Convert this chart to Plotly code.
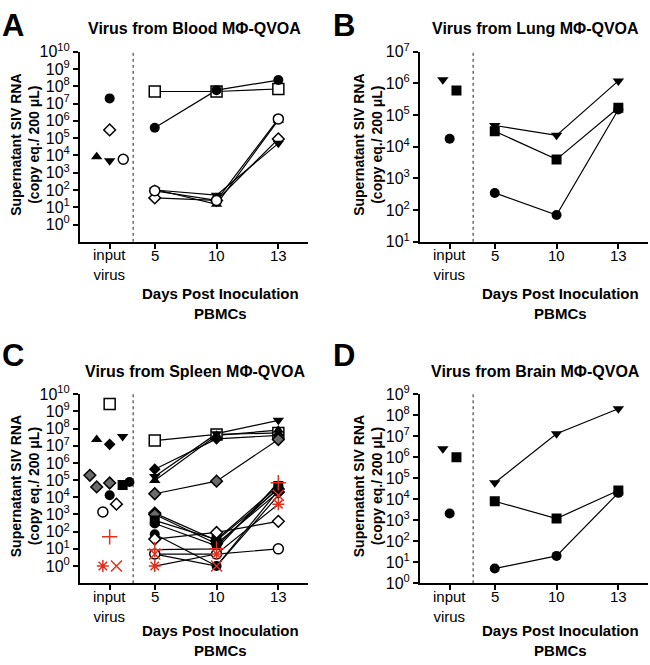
import plotly.graph_objects as go

W, H = 650, 665
def px(x): return x / W
def py(y): return 1 - y / H

# ---------------- data ----------------
x_labels = ["input<br>virus", "5", "10", "13"]

A_markers = ["sq_open", "circ_fill", "dia_open", "tri_up", "tri_dn", "circ_open"]
A_input = [None, 2e7, 3e5, 8.5e3, 5e3, 6e3]
A_day5 = [5e7, 4e5, 35, 110, 100, 90]
A_day10 = [5e7, 6e7, 25, 15, 50, 25]
A_day13 = [7e7, 2.3e8, 9e4, 1.1e6, 5e4, 1.3e6]

B_markers = ["tri_dn", "sq_fill", "circ_fill"]
B_input = [1.3e6, 6e5, 1.8e4]
B_day5 = [4.7e4, 3.1e4, 350]
B_day10 = [2.3e4, 4e3, 70]
B_day13 = [1.2e6, 1.7e5, 1.5e5]

C_markers = ["sq_open", "tri_up", "dia_fill", "tri_dn", "dia_half", "dia_half", "dia_half",
             "sq_fill", "circ_fill", "circ_fill", "dia_open", "circ_open",
             "red_plus", "red_ast", "red_x"]
C_input = [2.7e9, 2.3e7, 1.2e7, 3.4e7, 1.9e5, 4e4, 6.8e4,
           5.2e4, 7.7e4, 1.3e4, 4e3, 1.4e3, 50, 1, 1]
C_day5 = [2e7, 9.5e4, 4.3e5, 1.6e5, 1.6e4, 1.2e3, 1.0e3,
          450, 300, 70, 37, 5, 9, 1, 5]
C_day10 = [4.5e7, 4e7, 2.5e7, 5e7, 8.7e4, 30, 20,
           35, 15, 1, 90, 5, 10, 5, 1]
C_day13 = [5.5e7, 8e7, 4e7, 3e8, 2.3e7, 3e4, 2e4,
           4.5e4, 3.5e4, 2.5e4, 400, 10, 7e4, 4e3, 1.3e4]

D_markers = ["tri_dn", "sq_fill", "circ_fill"]
D_input = [2.5e6, 1e6, 2.1e3]
D_day5 = [6e4, 8e3, 5]
D_day10 = [1.3e7, 1.2e3, 20]
D_day13 = [2e8, 2.6e4, 2e4]

# ---------------- styles / layout constants ----------------
RED = "#e2301f"
STYLE = {
    "sq_open":   dict(symbol="square", size=11, color="white", line=dict(color="black", width=1.5)),
    "sq_fill":   dict(symbol="square", size=10, color="black", line=dict(color="black", width=0)),
    "circ_fill": dict(symbol="circle", size=10, color="black", line=dict(color="black", width=0)),
    "circ_open": dict(symbol="circle", size=10, color="white", line=dict(color="black", width=1.5)),
    "dia_open":  dict(symbol="diamond", size=9, color="white", line=dict(color="black", width=1.5)),
    "dia_fill":  dict(symbol="diamond", size=9, color="black", line=dict(color="black", width=0)),
    "dia_half":  dict(symbol="diamond", size=9, color="#6a6a6a", line=dict(color="black", width=1.5)),
    "tri_up":    dict(symbol="triangle-up", size=10, color="black", line=dict(color="black", width=0)),
    "tri_dn":    dict(symbol="triangle-down", size=10, color="black", line=dict(color="black", width=0)),
    "red_plus":  dict(symbol="cross-thin-open", size=11, color=RED, line=dict(color=RED, width=1.5)),
    "red_ast":   dict(symbol="asterisk-open", size=10, color=RED, line=dict(color=RED, width=1.5)),
    "red_x":     dict(symbol="x-thin-open", size=11, color=RED, line=dict(color=RED, width=1.5)),
}

cat_pos = [0.27, 1, 2, 3]
x_range = [-0.21, 3.48]
divider = 0.65

A_jit = [0, 0, 0, -0.21, 0, 0.22]
B_jit = [-0.11, 0.11, 0]
C_jit = [0, -0.21, 0, 0.21, -0.32, -0.21, 0, 0.21, 0.32, 0, 0.11, -0.11, 0, -0.11, 0.11]
D_jit = [-0.11, 0.11, 0]

panels = [
    dict(key="A", xa="x", ya="y", markers=A_markers, inp=A_input, d5=A_day5, d10=A_day10, d13=A_day13,
         jit=A_jit, xdom=[px(80), px(308)], ydom=[py(238), py(42)], yr=[-1, 10], dec=range(0, 11),
         title="Virus from Blood MΦ-QVOA", tx=194, ty=18, lx=13, ly=15, ytx=25, yty=138, xtx=220, xty=302,
         tly=252),
    dict(key="B", xa="x2", ya="y2", markers=B_markers, inp=B_input, d5=B_day5, d10=B_day10, d13=B_day13,
         jit=B_jit, xdom=[px(420), px(648)], ydom=[py(238), py(42)], yr=[1, 7], dec=range(1, 8),
         title="Virus from Lung MΦ-QVOA", tx=535, ty=18, lx=344, ly=15, ytx=368, yty=138, xtx=560, xty=302,
         tly=252),
    dict(key="C", xa="x3", ya="y3", markers=C_markers, inp=C_input, d5=C_day5, d10=C_day10, d13=C_day13,
         jit=C_jit, xdom=[px(80), px(308)], ydom=[py(590), py(395)], yr=[-1, 10], dec=range(0, 11),
         title="Virus from Spleen MΦ-QVOA", tx=195, ty=372, lx=13, ly=355, ytx=25, yty=490, xtx=220, xty=649,
         tly=604),
    dict(key="D", xa="x4", ya="y4", markers=D_markers, inp=D_input, d5=D_day5, d10=D_day10, d13=D_day13,
         jit=D_jit, xdom=[px(420), px(648)], ydom=[py(590), py(395)], yr=[0, 9], dec=range(0, 10),
         title="Virus from Brain MΦ-QVOA", tx=535, ty=372, lx=344, ly=355, ytx=368, yty=490, xtx=560, xty=649,
         tly=604),
]

fig = go.Figure()

# connecting lines first
for p in panels:
    for i in range(len(p["markers"])):
        fig.add_trace(go.Scatter(
            x=cat_pos[1:], y=[p["d5"][i], p["d10"][i], p["d13"][i]],
            mode="lines", line=dict(color="black", width=1.2),
            xaxis=p["xa"], yaxis=p["ya"], showlegend=False, hoverinfo="skip"))

# markers on top
for p in panels:
    for i, m in enumerate(p["markers"]):
        st = STYLE[m]
        mk = dict(symbol=st["symbol"], size=st["size"], color=st["color"], line=st["line"])
        if p["inp"][i] is not None:
            fig.add_trace(go.Scatter(
                x=[cat_pos[0] + p["jit"][i]], y=[p["inp"][i]], mode="markers", marker=mk,
                xaxis=p["xa"], yaxis=p["ya"], showlegend=False))
        fig.add_trace(go.Scatter(
            x=cat_pos[1:], y=[p["d5"][i], p["d10"][i], p["d13"][i]], mode="markers", marker=mk,
            xaxis=p["xa"], yaxis=p["ya"], showlegend=False))

FONT = "Liberation Sans, Arial, sans-serif"
LINE_H = 19.5  # plotly annotation line height at 15px
layout = dict(width=W, height=H, margin=dict(l=0, r=0, t=0, b=0),
              plot_bgcolor="white", paper_bgcolor="white", showlegend=False,
              font=dict(family=FONT, color="black"))
annotations = []
shapes = []
for n, p in enumerate(panels):
    sfx = "" if n == 0 else str(n + 1)
    layout["xaxis" + sfx] = dict(
        domain=p["xdom"], anchor=p["ya"], range=x_range, tickmode="array",
        tickvals=cat_pos, showticklabels=False, showgrid=False, zeroline=False,
        showline=True, linecolor="black", linewidth=2, ticks="outside", ticklen=5,
        tickwidth=2, tickcolor="black")
    layout["yaxis" + sfx] = dict(
        domain=p["ydom"], anchor=p["xa"], type="log", range=p["yr"], tickmode="array",
        tickvals=[10 ** k for k in p["dec"]],
        ticktext=["10<sup>%d</sup>" % k for k in p["dec"]],
        showgrid=False, zeroline=False, showline=True, linecolor="black", linewidth=2,
        ticks="outside", ticklen=5, tickwidth=2, tickcolor="black",
        tickfont=dict(size=16, family=FONT))
    shapes.append(dict(type="line", xref=p["xa"], yref=p["ya"] + " domain",
                       x0=divider, x1=divider, y0=0, y1=1,
                       line=dict(color="#222", width=1, dash="dot")))
    # category (tick) labels
    for xv, lab in zip(cat_pos, x_labels):
        nlines = lab.count("<br>") + 1
        annotations.append(dict(text=lab, x=xv, xref=p["xa"],
                                y=py(p["tly"] + LINE_H * (nlines - 1) / 2),
                                yref="paper", showarrow=False, xanchor="center",
                                yanchor="middle", font=dict(size=15, family=FONT)))
    annotations += [
        dict(text="<b>%s</b>" % p["key"], x=px(p["lx"]), y=py(p["ly"]),
             xref="paper", yref="paper",
             showarrow=False, font=dict(size=31, family=FONT), xanchor="center", yanchor="middle"),
        dict(text="<b>%s</b>" % p["title"], x=px(p["tx"]), y=py(p["ty"]), xref="paper", yref="paper",
             showarrow=False, font=dict(size=16, family=FONT), xanchor="center", yanchor="middle"),
        dict(text="<b>Supernatant SIV RNA<br>(copy eq./ 200 μL)</b>", x=px(p["ytx"]), y=py(p["yty"]),
             xref="paper", yref="paper", textangle=-90, showarrow=False,
             font=dict(size=14, family=FONT), xanchor="center", yanchor="middle"),
        dict(text="<b>Days Post Inoculation<br>PBMCs</b>", x=px(p["xtx"]), y=py(p["xty"]),
             xref="paper", yref="paper", showarrow=False,
             font=dict(size=15, family=FONT), xanchor="center", yanchor="middle"),
    ]
layout["annotations"] = annotations
layout["shapes"] = shapes
fig.update_layout(**layout)
fig.write_html("out.html", config={"displayModeBar": False},
               post_script="document.body.style.margin='0';")
